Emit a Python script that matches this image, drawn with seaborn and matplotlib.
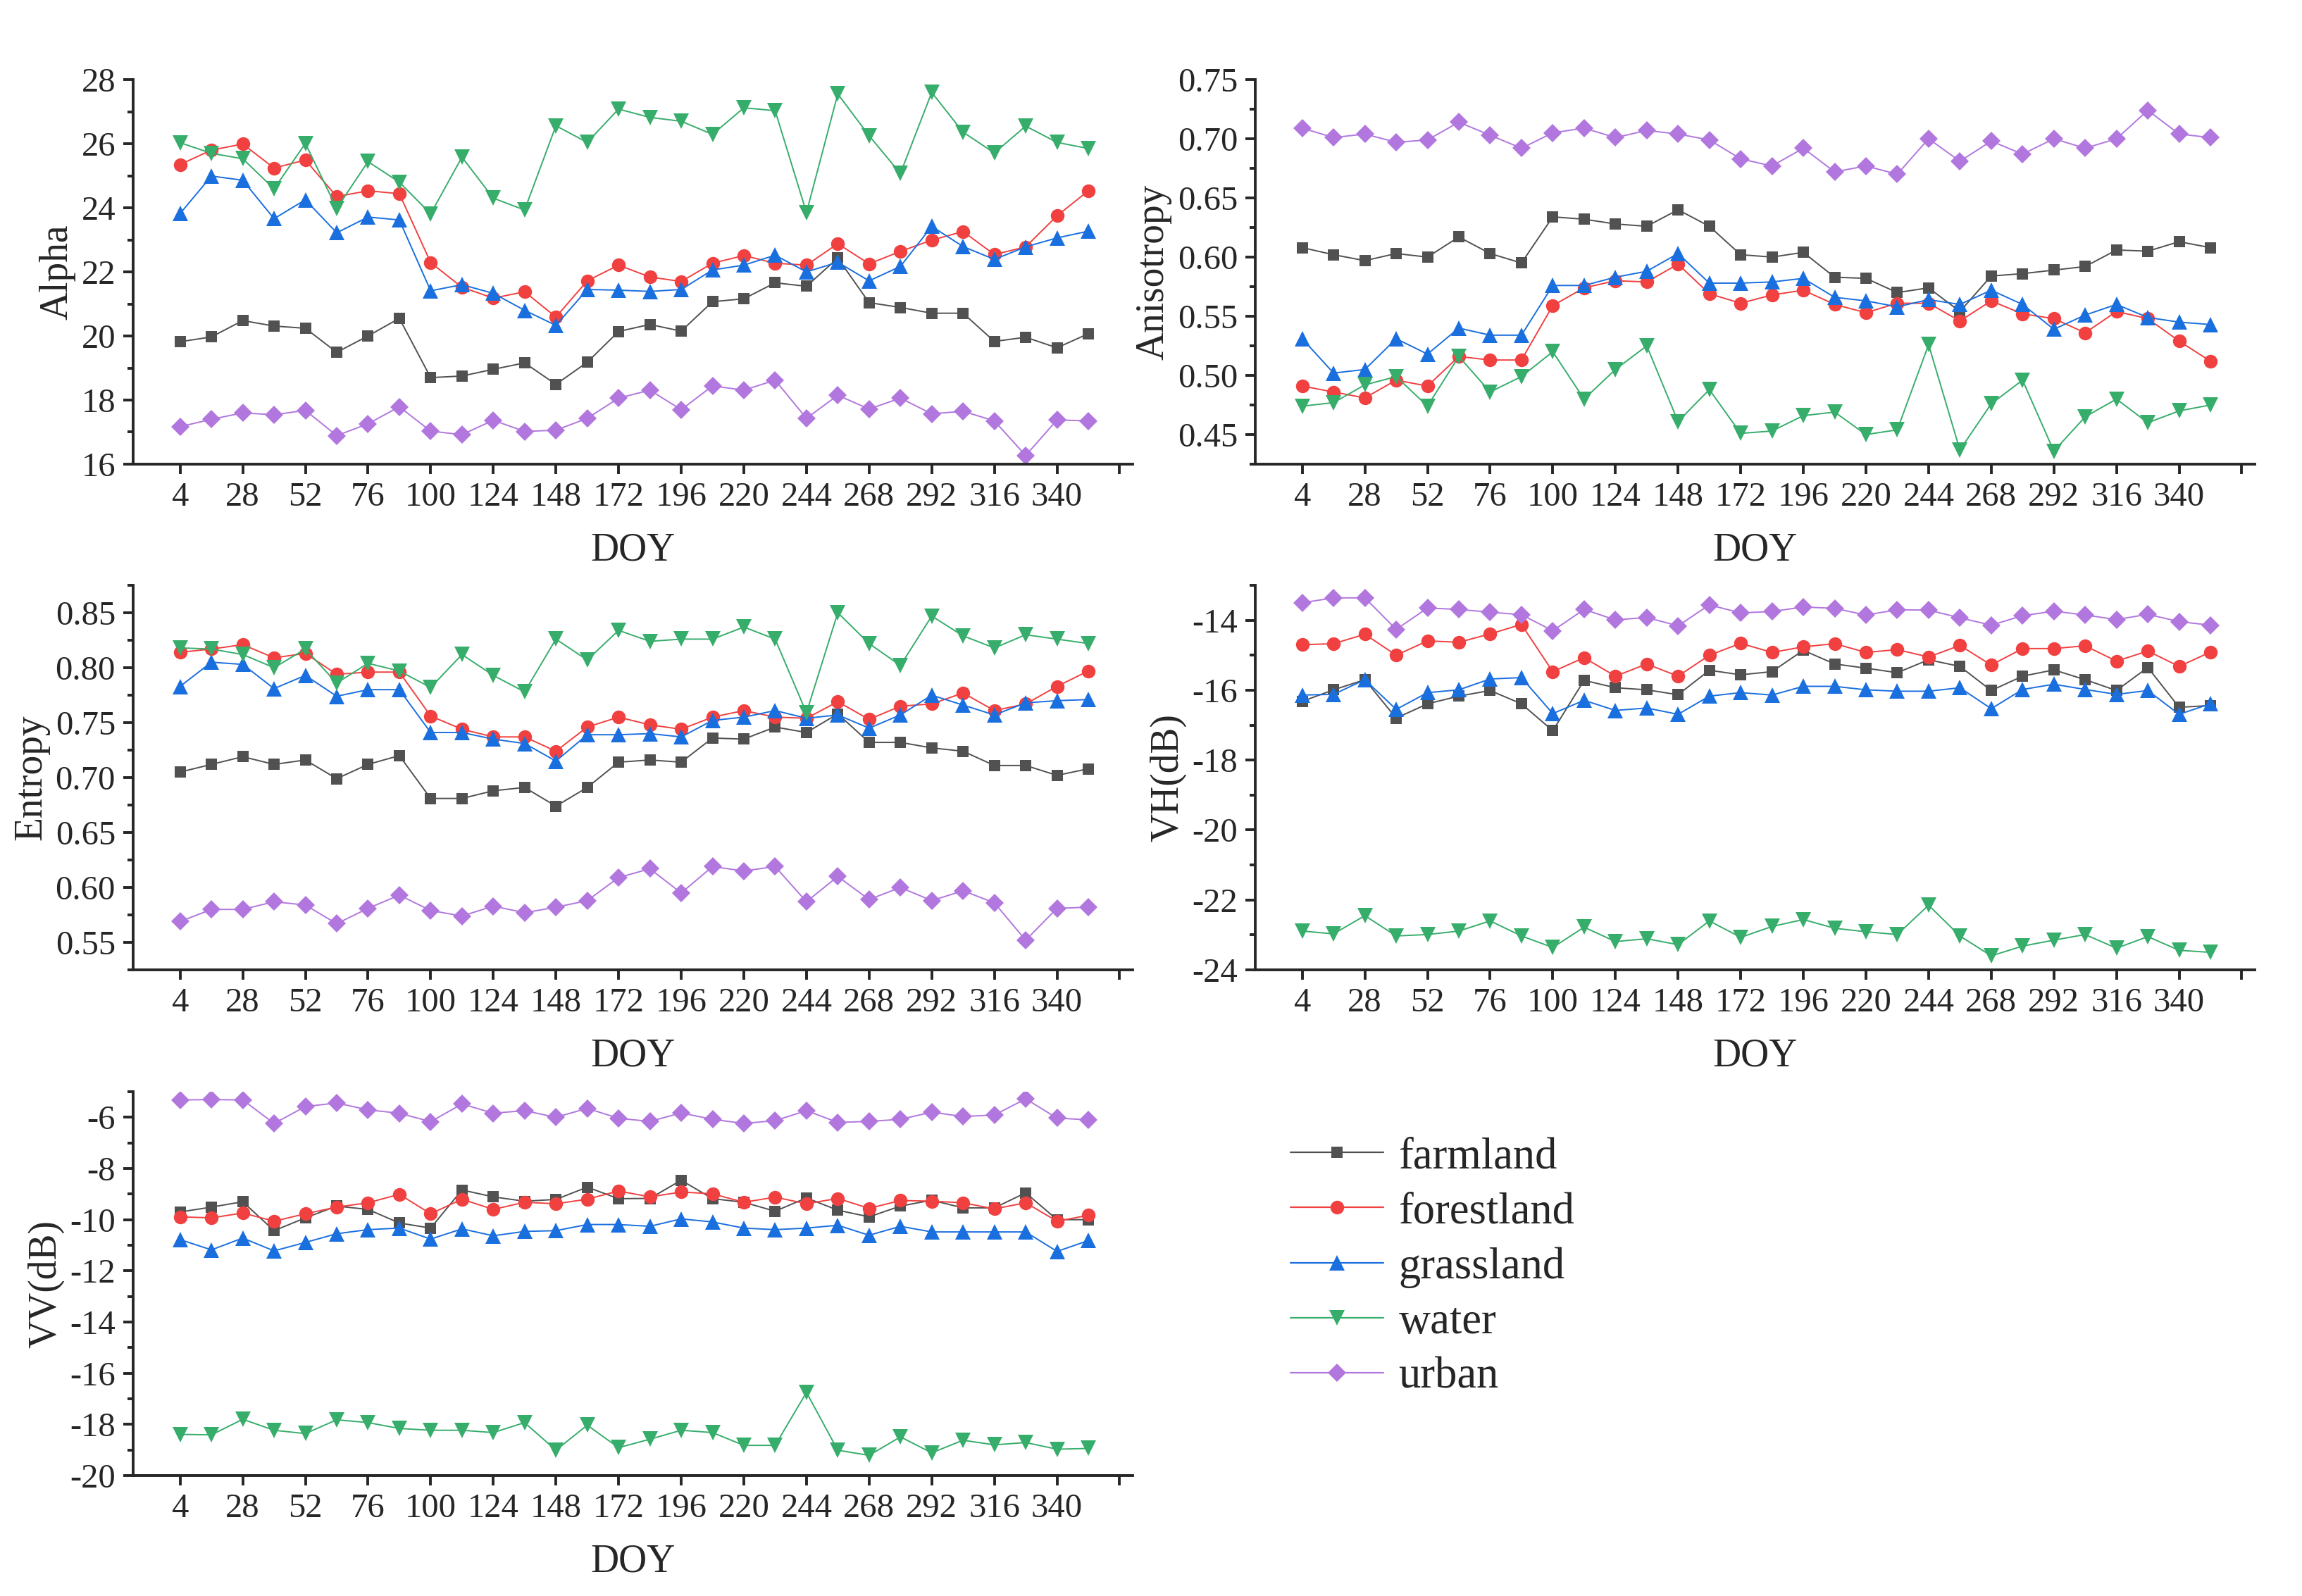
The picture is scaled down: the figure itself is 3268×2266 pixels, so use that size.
import numpy as np
import pandas as pd
import seaborn as sns
import matplotlib
matplotlib.use("Agg")
import matplotlib.pyplot as plt
from matplotlib.lines import Line2D
from matplotlib.ticker import MultipleLocator, FormatStrFormatter

doy = list(range(4, 353, 12))
classes = ["farmland", "forestland", "grassland", "water", "urban"]
colors = {"farmland": "#515151", "forestland": "#F14040", "grassland": "#1A6FDF",
          "water": "#37AD6B", "urban": "#B177DE"}
markers = {"farmland": "s", "forestland": "o", "grassland": "^", "water": "v", "urban": "D"}
msizes = {"farmland": 6.0, "forestland": 7.0, "grassland": 7.8, "water": 7.8, "urban": 6.6}

# Alpha
alpha_farmland = [19.82, 19.97, 20.48, 20.31, 20.24, 19.49, 20.00, 20.55, 18.70, 18.75, 18.96, 19.16, 18.49, 19.18, 20.14,
                  20.36, 20.15, 21.07, 21.16, 21.66, 21.55, 22.43, 21.04, 20.89, 20.71, 20.71, 19.83, 19.96, 19.63, 20.07]
alpha_forestland = [25.35, 25.80, 25.99, 25.24, 25.49, 24.35, 24.53, 24.44, 22.29, 21.52, 21.18, 21.38, 20.59, 21.72, 22.21,
                    21.84, 21.70, 22.27, 22.51, 22.27, 22.21, 22.88, 22.25, 22.64, 22.99, 23.26, 22.54, 22.78, 23.75, 24.53]
alpha_grassland = [23.82, 24.99, 24.86, 23.66, 24.25, 23.22, 23.71, 23.62, 21.41, 21.60, 21.33, 20.80, 20.33, 21.45, 21.43,
                   21.39, 21.45, 22.06, 22.21, 22.52, 22.00, 22.30, 21.72, 22.17, 23.42, 22.79, 22.39, 22.78, 23.06, 23.27]
alpha_water = [26.03, 25.70, 25.53, 24.59, 26.01, 23.98, 25.44, 24.80, 23.81, 25.58, 24.30, 23.93, 26.56, 26.04, 27.08,
               26.82, 26.70, 26.29, 27.12, 27.03, 23.85, 27.55, 26.25, 25.07, 27.60, 26.36, 25.71, 26.55, 26.04, 25.85]
alpha_urban = [17.17, 17.40, 17.60, 17.54, 17.68, 16.89, 17.26, 17.79, 17.03, 16.92, 17.37, 17.02, 17.06, 17.43, 18.06,
               18.31, 17.70, 18.44, 18.31, 18.62, 17.43, 18.15, 17.72, 18.06, 17.57, 17.65, 17.35, 16.27, 17.38, 17.35]

# Anisotropy
aniso_farmland = [0.608, 0.602, 0.597, 0.603, 0.600, 0.617, 0.603, 0.595, 0.634, 0.632, 0.628, 0.626, 0.640, 0.626, 0.602,
                  0.600, 0.604, 0.583, 0.582, 0.570, 0.574, 0.554, 0.584, 0.586, 0.589, 0.592, 0.606, 0.605, 0.613, 0.608]
aniso_forestland = [0.491, 0.486, 0.481, 0.496, 0.491, 0.516, 0.513, 0.513, 0.559, 0.574, 0.580, 0.579, 0.594, 0.569, 0.561,
                    0.568, 0.572, 0.560, 0.553, 0.561, 0.561, 0.546, 0.563, 0.552, 0.548, 0.536, 0.554, 0.548, 0.529, 0.512]
aniso_grassland = [0.531, 0.502, 0.505, 0.531, 0.518, 0.540, 0.534, 0.534, 0.576, 0.576, 0.583, 0.588, 0.603, 0.578, 0.578,
                   0.579, 0.582, 0.566, 0.563, 0.558, 0.564, 0.560, 0.572, 0.560, 0.539, 0.551, 0.560, 0.549, 0.545, 0.543]
aniso_water = [0.474, 0.477, 0.492, 0.499, 0.474, 0.516, 0.486, 0.499, 0.520, 0.480, 0.505, 0.525, 0.461, 0.488, 0.451,
               0.453, 0.466, 0.469, 0.450, 0.454, 0.526, 0.437, 0.476, 0.496, 0.436, 0.465, 0.480, 0.460, 0.470, 0.475]
aniso_urban = [0.709, 0.701, 0.704, 0.697, 0.699, 0.714, 0.703, 0.692, 0.705, 0.709, 0.701, 0.707, 0.704, 0.699, 0.683,
               0.677, 0.692, 0.672, 0.677, 0.670, 0.700, 0.681, 0.698, 0.687, 0.700, 0.692, 0.700, 0.724, 0.704, 0.701]

# Entropy
entropy_farmland = [0.705, 0.712, 0.719, 0.712, 0.716, 0.699, 0.712, 0.720, 0.681, 0.681, 0.688, 0.691, 0.674, 0.691, 0.714,
                    0.716, 0.714, 0.736, 0.735, 0.746, 0.741, 0.758, 0.732, 0.732, 0.727, 0.724, 0.711, 0.711, 0.702, 0.708]
entropy_forestland = [0.814, 0.817, 0.821, 0.809, 0.813, 0.794, 0.796, 0.796, 0.756, 0.744, 0.737, 0.737, 0.724, 0.746, 0.755,
                      0.748, 0.744, 0.755, 0.761, 0.755, 0.754, 0.769, 0.753, 0.765, 0.767, 0.777, 0.761, 0.767, 0.783, 0.797]
entropy_grassland = [0.783, 0.805, 0.803, 0.781, 0.793, 0.774, 0.780, 0.780, 0.741, 0.741, 0.735, 0.731, 0.715, 0.739, 0.739,
                     0.740, 0.737, 0.752, 0.755, 0.761, 0.754, 0.757, 0.745, 0.757, 0.775, 0.766, 0.757, 0.768, 0.770, 0.771]
entropy_water = [0.818, 0.817, 0.812, 0.800, 0.817, 0.786, 0.804, 0.797, 0.782, 0.812, 0.793, 0.778, 0.826, 0.807, 0.834,
                 0.824, 0.826, 0.826, 0.837, 0.826, 0.759, 0.850, 0.822, 0.802, 0.847, 0.829, 0.818, 0.830, 0.826, 0.822]
entropy_urban = [0.569, 0.580, 0.580, 0.587, 0.584, 0.567, 0.581, 0.593, 0.579, 0.574, 0.583, 0.577, 0.582, 0.588, 0.609,
                 0.617, 0.595, 0.619, 0.615, 0.619, 0.587, 0.610, 0.589, 0.600, 0.588, 0.597, 0.586, 0.552, 0.581, 0.582]

# VH (dB)
vh_farmland = [-16.32, -15.99, -15.70, -16.80, -16.39, -16.17, -16.01, -16.39, -17.16, -15.72, -15.93, -15.99, -16.13, -15.43, -15.56,
               -15.47, -14.86, -15.25, -15.37, -15.50, -15.13, -15.32, -16.01, -15.60, -15.42, -15.70, -16.01, -15.35, -16.49, -16.44]
vh_forestland = [-14.70, -14.67, -14.40, -15.00, -14.59, -14.63, -14.39, -14.12, -15.47, -15.07, -15.60, -15.25, -15.60, -15.00, -14.66,
                 -14.92, -14.76, -14.67, -14.92, -14.84, -15.05, -14.72, -15.28, -14.81, -14.81, -14.73, -15.17, -14.88, -15.32, -14.91]
vh_grassland = [-16.14, -16.12, -15.70, -16.55, -16.07, -15.99, -15.68, -15.64, -16.67, -16.29, -16.58, -16.51, -16.69, -16.17, -16.07,
                -16.14, -15.89, -15.89, -15.99, -16.03, -16.03, -15.93, -16.53, -15.98, -15.83, -15.98, -16.12, -16.01, -16.69, -16.39]
vh_water = [-22.89, -22.97, -22.45, -23.03, -22.99, -22.89, -22.60, -23.03, -23.36, -22.78, -23.19, -23.11, -23.28, -22.60, -23.07,
            -22.76, -22.56, -22.81, -22.91, -22.99, -22.15, -23.03, -23.60, -23.32, -23.15, -22.99, -23.38, -23.05, -23.44, -23.50]
vh_urban = [-13.50, -13.36, -13.36, -14.26, -13.65, -13.69, -13.77, -13.84, -14.30, -13.69, -13.99, -13.92, -14.16, -13.56, -13.79,
            -13.75, -13.62, -13.66, -13.85, -13.70, -13.71, -13.93, -14.14, -13.87, -13.74, -13.85, -13.98, -13.83, -14.04, -14.14]

# VV (dB)
vv_farmland = [-9.70, -9.51, -9.30, -10.43, -9.93, -9.47, -9.60, -10.13, -10.33, -8.84, -9.11, -9.28, -9.21, -8.73, -9.18,
               -9.17, -8.46, -9.18, -9.32, -9.67, -9.15, -9.63, -9.89, -9.47, -9.24, -9.54, -9.54, -8.95, -10.00, -10.00]
vv_forestland = [-9.89, -9.93, -9.74, -10.06, -9.77, -9.51, -9.34, -9.01, -9.77, -9.20, -9.60, -9.32, -9.38, -9.20, -8.88,
                 -9.11, -8.92, -8.99, -9.32, -9.12, -9.38, -9.17, -9.56, -9.25, -9.28, -9.34, -9.58, -9.34, -10.06, -9.83]
vv_grassland = [-10.78, -11.18, -10.72, -11.22, -10.89, -10.55, -10.39, -10.33, -10.76, -10.36, -10.63, -10.46, -10.43, -10.19, -10.19,
                -10.26, -9.97, -10.09, -10.33, -10.39, -10.33, -10.22, -10.61, -10.26, -10.48, -10.48, -10.48, -10.48, -11.24, -10.82]
vv_water = [-18.39, -18.41, -17.80, -18.23, -18.36, -17.82, -17.93, -18.16, -18.23, -18.23, -18.32, -17.93, -19.01, -18.03, -18.91,
            -18.58, -18.23, -18.32, -18.82, -18.82, -16.75, -19.01, -19.21, -18.49, -19.11, -18.62, -18.80, -18.71, -18.97, -18.94]
vv_urban = [-5.32, -5.31, -5.32, -6.24, -5.58, -5.44, -5.71, -5.84, -6.17, -5.48, -5.84, -5.74, -6.00, -5.65, -6.04,
            -6.16, -5.83, -6.08, -6.24, -6.13, -5.74, -6.20, -6.16, -6.08, -5.80, -5.97, -5.91, -5.28, -6.03, -6.10]

panels = [
    ("Alpha", [alpha_farmland, alpha_forestland, alpha_grassland, alpha_water, alpha_urban], (16, 28), 2, 1, "%d"),
    ("Anisotropy", [aniso_farmland, aniso_forestland, aniso_grassland, aniso_water, aniso_urban], (0.425, 0.75), 0.05, 0.025, "%.2f"),
    ("Entropy", [entropy_farmland, entropy_forestland, entropy_grassland, entropy_water, entropy_urban], (0.525, 0.875), 0.05, 0.025, "%.2f"),
    ("VH(dB)", [vh_farmland, vh_forestland, vh_grassland, vh_water, vh_urban], (-24, -13), 2, 1, "%d"),
    ("VV(dB)", [vv_farmland, vv_forestland, vv_grassland, vv_water, vv_urban], (-20, -5), 2, 1, "%d"),
]

sns.set_style("ticks")
plt.rcParams["font.family"] = ["Liberation Serif", "DejaVu Serif"]
plt.rcParams["axes.unicode_minus"] = False

fig = plt.figure(figsize=(16.34, 11.33), dpi=200)
W, H = 3268, 2266
# axes boxes in pixels: left, top, right, bottom
boxes = [(189, 113, 1608, 659), (1782, 113, 3201, 659),
         (189, 831, 1608, 1377), (1782, 831, 3201, 1377),
         (189, 1550, 1608, 2095)]

xt = list(range(4, 365, 24))
xtl = [str(v) for v in xt[:-1]] + [""]

for (name, series, ylim, major, minor, fmt), (l, t, r, b) in zip(panels, boxes):
    ax = fig.add_axes([l / W, 1 - b / H, (r - l) / W, (b - t) / H])
    rows = []
    for cls, vals in zip(classes, series):
        rows.append(pd.DataFrame({"DOY": doy, "value": vals, "class": cls}))
    df = pd.concat(rows, ignore_index=True)
    for cls in classes:
        sns.lineplot(data=df[df["class"] == cls], x="DOY", y="value", color=colors[cls],
                     marker=markers[cls], markersize=msizes[cls], markeredgewidth=0,
                     linewidth=0.7, errorbar=None, ax=ax)
    ax.set_xlim(-14, 369)
    ax.set_xticks(xt)
    ax.set_xticklabels(xtl)
    ax.yaxis.set_major_locator(MultipleLocator(major))
    ax.yaxis.set_minor_locator(MultipleLocator(minor))
    ax.yaxis.set_major_formatter(FormatStrFormatter(fmt))
    ax.set_ylim(*ylim)
    ax.set_xlabel("DOY", fontsize=20, labelpad=10)
    ax.set_ylabel(name, fontsize=20, labelpad=3)
    sns.despine(ax=ax)
    for s in ["left", "bottom"]:
        ax.spines[s].set_linewidth(1.4)
    ax.tick_params(axis="both", which="major", direction="out", length=5, width=1.4, labelsize=17.5, pad=4)
    ax.tick_params(axis="y", which="minor", direction="out", length=3, width=1.4)

handles = [Line2D([], [], color=colors[c], marker=markers[c], markersize=msizes[c],
                  markeredgewidth=0, linewidth=0.8) for c in classes]
fig.legend(handles, classes, loc="upper left", bbox_to_anchor=(1776 / W, 1 - 1558 / H),
           frameon=False, fontsize=22.5, handlelength=2.1, handletextpad=0.35, labelspacing=0.32)

fig.savefig("out.png", dpi=200)
